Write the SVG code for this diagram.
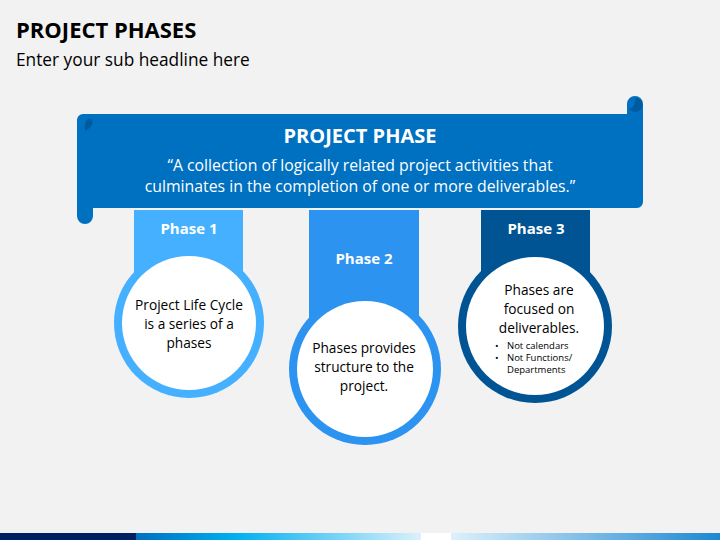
<svg xmlns="http://www.w3.org/2000/svg" width="720" height="540" viewBox="0 0 720 540">
<defs>
<style>
.t{font-family:"Open Sans","Liberation Sans",sans-serif;fill:#000}
.w{font-family:"Open Sans","Liberation Sans",sans-serif;fill:#fff}
.b{font-weight:bold}
.c{font-size:13.7px;text-anchor:middle}
.ph{font-size:15px;font-weight:bold;text-anchor:middle}
.bul{font-size:9.5px}
</style>
<linearGradient id="g1" x1="0" x2="1" y1="0" y2="0">
<stop offset="0" stop-color="#0070C0"/>
<stop offset="0.35" stop-color="#00B0F0"/>
<stop offset="1" stop-color="#DDF1FC"/>
</linearGradient>
<linearGradient id="g2" x1="0" x2="1" y1="0" y2="0">
<stop offset="0" stop-color="#DDF1FC"/>
<stop offset="1" stop-color="#1E88D2"/>
</linearGradient>
</defs>
<rect width="720" height="540" fill="#F2F2F2"/>
<text class="t b" x="16" y="38" font-size="22">PROJECT PHASES</text>
<text class="t" x="16" y="66" font-size="17.3">Enter your sub headline here</text>

<g id="banner">
<path d="M83,114 H627 V104 A8,8 0 0 1 643,104 V202 A6,6 0 0 1 637,208 H93 V216 A8,8 0 0 1 77,216 V120 A6,6 0 0 1 83,114 Z" fill="#0070C0"/>
<path d="M636,98 A7,7 0 1 1 629,108 A4,4 0 0 0 634,105 Z" fill="#005A9E"/>
<path d="M88,119 Q94,118 92,124 Q91,128 85,131 Q84,121 88,119 Z" fill="#005A9E"/>
<text class="w b" x="360" y="143" font-size="20" text-anchor="middle">PROJECT PHASE</text>
<text class="w" x="360" y="171" font-size="15.8" text-anchor="middle">“A collection of logically related project activities that</text>
<text class="w" x="360" y="192" font-size="15.8" text-anchor="middle">culminates in the completion of one or more deliverables.”</text>
</g>

<g id="phase1">
<rect x="134" y="210" width="109" height="70" fill="#45B0FF"/>
<circle cx="189" cy="323" r="75" fill="#45B0FF"/>
<circle cx="189" cy="323" r="67" fill="#fff"/>
<text class="w ph" x="189" y="234">Phase 1</text>
<text class="t c" x="189" y="310">Project Life Cycle</text>
<text class="t c" x="189" y="329">is a series of a</text>
<text class="t c" x="189" y="348">phases</text>
</g>

<g id="phase2">
<rect x="309" y="210" width="110" height="110" fill="#2D93F0"/>
<circle cx="365" cy="369" r="76" fill="#2D93F0"/>
<circle cx="365" cy="369" r="68" fill="#fff"/>
<text class="w ph" x="364" y="264">Phase 2</text>
<text class="t c" x="364" y="353">Phases provides</text>
<text class="t c" x="364" y="372">structure to the</text>
<text class="t c" x="364" y="391">project.</text>
</g>

<g id="phase3">
<rect x="481" y="210" width="109" height="70" fill="#005494"/>
<circle cx="535" cy="326" r="77" fill="#005494"/>
<circle cx="535" cy="326" r="69" fill="#fff"/>
<text class="w ph" x="536" y="234">Phase 3</text>
<text class="t c" x="539" y="295">Phases are</text>
<text class="t c" x="539" y="314">focused on</text>
<text class="t c" x="539" y="333">deliverables.</text>
<text class="t bul" x="495" y="349">•</text>
<text class="t bul" x="507" y="349">Not calendars</text>
<text class="t bul" x="495" y="361">•</text>
<text class="t bul" x="507" y="361">Not Functions/</text>
<text class="t bul" x="507" y="373">Departments</text>
</g>

<g id="footer">
<rect x="0" y="533" width="137" height="7" fill="#002060"/>
<rect x="136" y="533" width="286" height="7" fill="url(#g1)"/>
<rect x="421" y="533" width="30" height="7" fill="#fff"/>
<rect x="451" y="533" width="269" height="7" fill="url(#g2)"/>
</g>
</svg>
